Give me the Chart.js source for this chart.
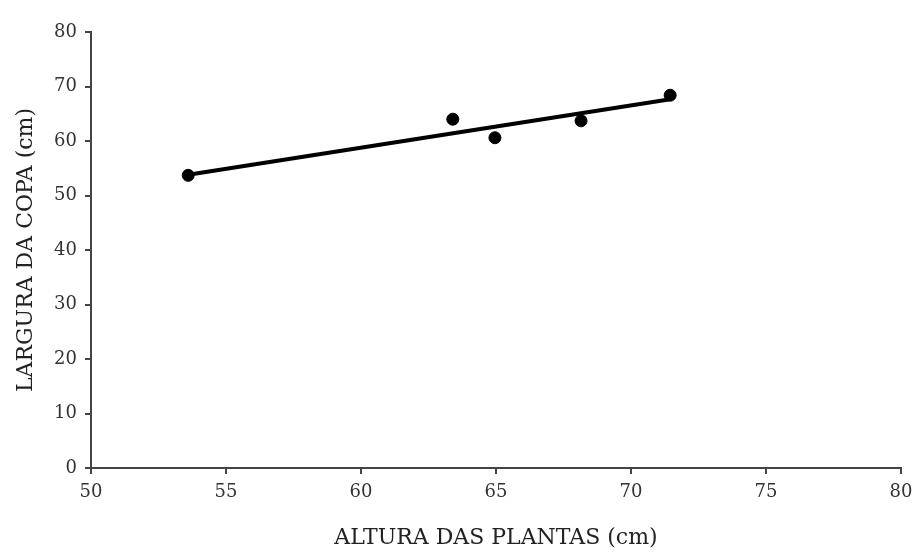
<!DOCTYPE html>
<html>
<head>
<meta charset="utf-8">
<script src="https://cdn.jsdelivr.net/npm/chart.js@4/dist/chart.umd.min.js"></script>
<style>
  html, body { margin: 0; padding: 0; background: #fff; }
  #wrap { width: 915px; height: 552px; }
</style>
</head>
<body>
<div id="wrap"><canvas id="chart" width="915" height="552"></canvas></div>
<script>
const ctx = document.getElementById("chart");

// observed points
const alturas = [53.6, 63.4, 64.96, 68.15, 71.45];
const larguras = [53.7, 64.0, 60.6, 63.7, 68.4];

// fitted line ends
const linhaX = [53.6, 71.4];
const linhaY = [53.8, 67.6];

const xTicks = [50, 55, 60, 65, 70, 75, 80];
const yTicks = [0, 10, 20, 30, 40, 50, 60, 70, 80];

const fonte = "'DejaVu Serif', 'Liberation Serif', serif";
const cinza = "#444";

const pontos = alturas.map((x, i) => ({ x: x, y: larguras[i] }));
const linha = linhaX.map((x, i) => ({ x: x, y: linhaY[i] }));

const grafico = new Chart(ctx, {
  type: "scatter",
  data: {
    datasets: [
      {
        label: "Reta",
        data: linha,
        showLine: true,
        borderColor: "#000",
        borderWidth: 4,
        pointRadius: 0,
        order: 2,
      },
      {
        label: "Observado",
        data: pontos,
        backgroundColor: "#000",
        borderColor: "#000",
        pointRadius: 6,
        order: 1,
      },
    ],
  },
  options: {
    responsive: false,
    animation: false,
    layout: { padding: { top: 32, right: 14, bottom: 0, left: 0 } },
    plugins: { legend: { display: false }, tooltip: { enabled: false } },
    scales: {
      x: {
        type: "linear",
        min: 50,
        max: 80,
        afterBuildTicks: (s) => { s.ticks = xTicks.map((v) => ({ value: v })); },
        afterFit: (s) => {
          s.height = 84;
          s.paddingRight = 0;
          s.paddingLeft = 0;
        },
        border: { display: true, color: cinza, width: 2 },
        grid: { drawOnChartArea: false, color: cinza, tickLength: 6, lineWidth: 2 },
        ticks: { color: "#333", font: { family: fonte, size: 18 }, padding: 8 },
        title: {
          display: true,
          text: "ALTURA DAS PLANTAS (cm)",
          color: "#222",
          font: { family: fonte, size: 22 },
          padding: { top: 4, bottom: 1 },
        },
      },
      y: {
        type: "linear",
        min: 0,
        max: 80,
        afterBuildTicks: (s) => { s.ticks = yTicks.map((v) => ({ value: v })); },
        afterFit: (s) => {
          s.width = 91;
          s.paddingTop = 0;
          s.paddingBottom = 0;
        },
        border: { display: true, color: cinza, width: 2 },
        grid: { drawOnChartArea: false, color: cinza, tickLength: 6, lineWidth: 2 },
        ticks: { color: "#333", font: { family: fonte, size: 18 }, padding: 8 },
        title: {
          display: true,
          text: "LARGURA DA COPA (cm)",
          color: "#222",
          font: { family: fonte, size: 22 },
          padding: { top: 13, bottom: 2 },
        },
      },
    },
  },
});
</script>
</body>
</html>
